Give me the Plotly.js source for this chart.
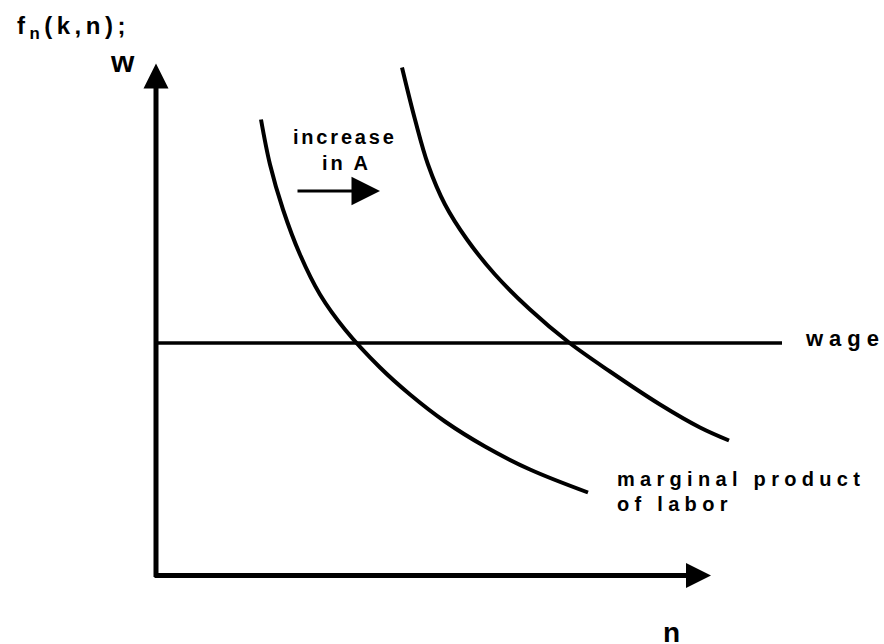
<!DOCTYPE html>
<html>
<head>
<meta charset="utf-8">
<script src="https://cdn.plot.ly/plotly-3.0.1.min.js"></script>
<style>
  html, body { margin: 0; padding: 0; background: #ffffff; }
  #chart { width: 884px; height: 644px; }
</style>
</head>
<body>
<div id="chart"></div>
<script>
// Schematic units: labour n on the horizontal axis, real wage w on the vertical axis
// Marginal product of labour before the increase in A
const mplBeforeN = [10.5, 11.4, 12.7, 14.4, 16.4, 18.9, 22.4, 25.4, 28.9, 32.9, 37.4, 43.2];
const mplBeforeW = [45.6, 41.1, 36.6, 32.1, 28.1, 24.6, 20.8, 18.1, 15.4, 12.9, 10.6, 8.3];
// Marginal product of labour after the increase in A
const mplAfterN = [24.6, 25.9, 27.2, 28.9, 31.1, 33.9, 37.4, 41.3, 45.4, 50.4, 54.4, 57.3];
const mplAfterW = [50.8, 45.6, 41.1, 37.1, 33.6, 30.1, 26.6, 23.3, 20.4, 17.1, 14.8, 13.5];
// Horizontal wage line
const wageN = [0, 62.6];
const wageW = [23.25, 23.25];
// Text labels
const yLabel = 'f<sub>n</sub>(k,n);';
const yLabel2 = 'w';
const xLabel = 'n';
const shiftLabel1 = 'increase';
const shiftLabel2 = 'in A';
const wageLabel = 'wage';
const mplLabel1 = 'marginal product';
const mplLabel2 = 'of labor';

const ink = '#000000';
const font = {family: 'Liberation Sans, Arial, sans-serif', size: 20, color: ink, weight: 'bold'};
function sp(t, px) { return px ? '<span style="letter-spacing:' + px + 'px">' + t + '</span>' : t; }

const traces = [
  {x: mplBeforeN, y: mplBeforeW, mode: 'lines', line: {color: ink, width: 4, shape: 'spline', smoothing: 1}, hoverinfo: 'skip'},
  {x: mplAfterN, y: mplAfterW, mode: 'lines', line: {color: ink, width: 4, shape: 'spline', smoothing: 1}, hoverinfo: 'skip'},
  {x: wageN, y: wageW, mode: 'lines', line: {color: ink, width: 3.5}, hoverinfo: 'skip'}
];

const ann = [];
// vertical axis with arrow
ann.push({x: 0, y: 51.2, ax: 0, ay: -0.3, xref: 'x', yref: 'y', axref: 'x', ayref: 'y',
  showarrow: true, arrowhead: 2, arrowwidth: 5, arrowsize: 1, arrowcolor: ink, text: ''});
// horizontal axis with arrow
ann.push({x: 55.5, y: 0, ax: -0.3, ay: 0, xref: 'x', yref: 'y', axref: 'x', ayref: 'y',
  showarrow: true, arrowhead: 2, arrowwidth: 5, arrowsize: 1, arrowcolor: ink, text: ''});
// shift arrow
ann.push({x: 22.4, y: 38.45, ax: 14.0, ay: 38.45, xref: 'x', yref: 'y', axref: 'x', ayref: 'y',
  showarrow: true, arrowhead: 2, arrowwidth: 3, arrowsize: 1.9, arrowcolor: ink, text: ''});

function label(text, x, y, xanchor, size, spacing) {
  ann.push({x: x, y: y, xref: 'x', yref: 'y', xanchor: xanchor, yanchor: 'middle', showarrow: false,
    text: sp(text, spacing), font: Object.assign({}, font, {size: size})});
}
label(yLabel, -14.1, 54.85, 'left', 24, 4.5);
label(yLabel2, -3.35, 51.45, 'center', 30, 0);
label(shiftLabel1, 18.9, 43.9, 'center', 20, 2.8);
label(shiftLabel2, 19.0, 41.3, 'center', 20, 3);
label(wageLabel, 64.7, 23.75, 'left', 22, 6);
label(mplLabel1, 45.9, 9.7, 'left', 20, 5.3);
label(mplLabel2, 45.9, 7.2, 'left', 20, 5.3);
label(xLabel, 51.5, -5.7, 'center', 28, 0);

const layout = {
  width: 884, height: 644,
  margin: {l: 0, r: 0, t: 0, b: 0},
  paper_bgcolor: '#ffffff', plot_bgcolor: '#ffffff',
  showlegend: false,
  xaxis: {range: [-15.6, 72.8], visible: false, fixedrange: true},
  yaxis: {range: [-6.85, 57.55], visible: false, fixedrange: true},
  annotations: ann
};

Plotly.newPlot('chart', traces, layout, {staticPlot: true, displayModeBar: false});
</script>
</body>
</html>
